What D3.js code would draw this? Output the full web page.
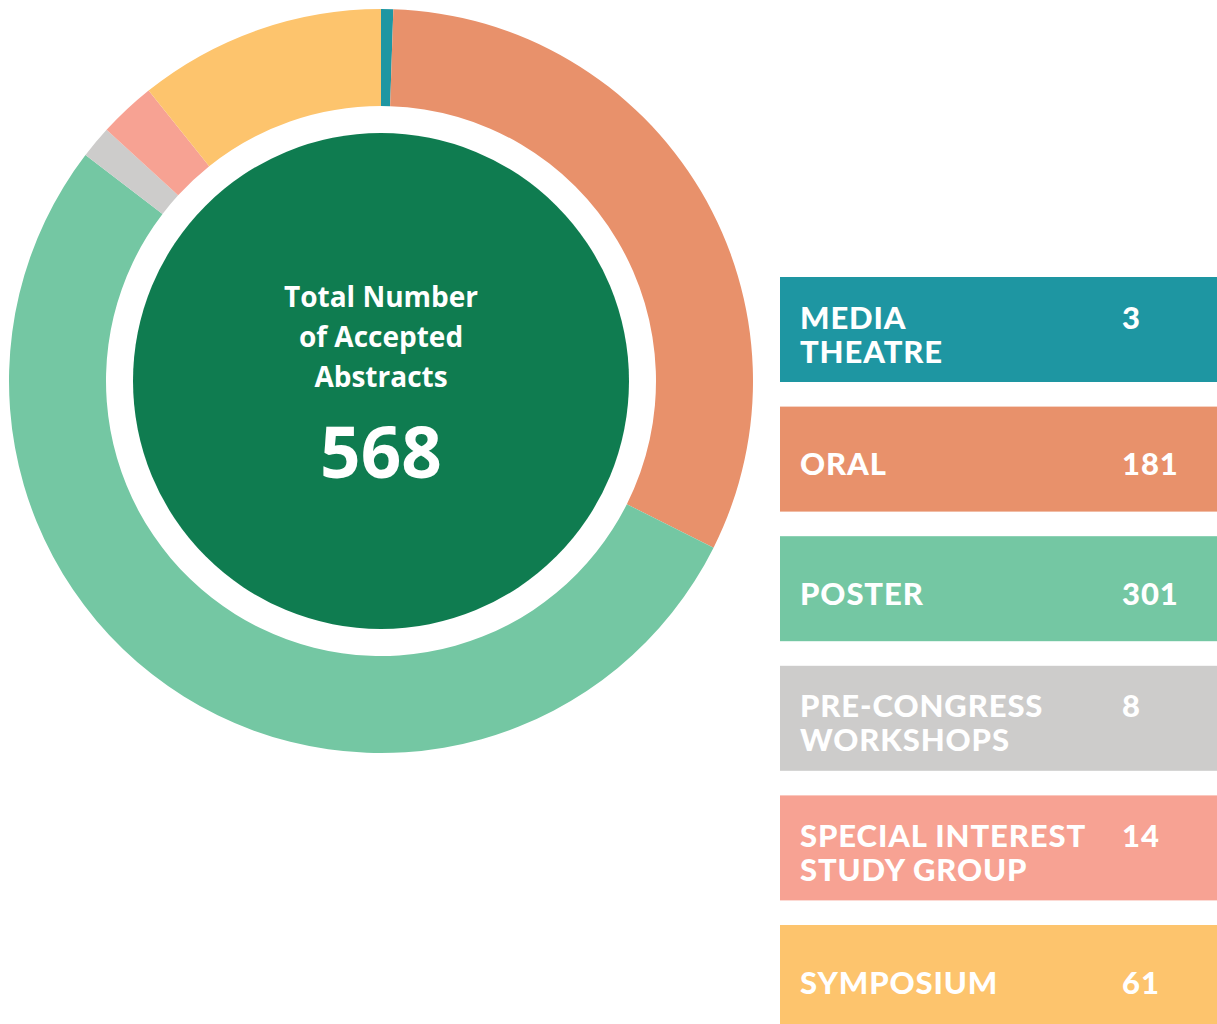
<!DOCTYPE html>
<html>
<head>
<meta charset="utf-8">
<script src="https://cdn.jsdelivr.net/npm/d3@7"></script>
<style>
  body { margin: 0; background: #fff; }
</style>
</head>
<body>
<div id="viz"></div>
<script>
let categories = ['MEDIA THEATRE', 'ORAL', 'POSTER', 'PRE-CONGRESS WORKSHOPS', 'SPECIAL INTEREST STUDY GROUP', 'SYMPOSIUM'];
let label_lines = [['MEDIA', 'THEATRE'], ['ORAL'], ['POSTER'], ['PRE-CONGRESS', 'WORKSHOPS'], ['SPECIAL INTEREST', 'STUDY GROUP'], ['SYMPOSIUM']];
let values = [3, 181, 301, 8, 14, 61];
let colors = ['#1e96a2', '#e8916b', '#74c7a3', '#cdcccb', '#f7a293', '#fdc46d'];
let center_lines = ['Total Number', 'of Accepted', 'Abstracts'];

const width = 1217, height = 1024;
const cx = 381, cy = 381;

const svg = d3.select('#viz').append('svg')
    .attr('width', width)
    .attr('height', height);

const pie = d3.pie().sort(null).value(d => d);
const arc = d3.arc().innerRadius(275).outerRadius(372);

const g = svg.append('g').attr('transform', 'translate(' + cx + ',' + cy + ')');

g.selectAll('path')
    .data(pie(values))
    .join('path')
    .attr('d', arc)
    .attr('fill', (d, i) => colors[i]);

// inner dark disc
g.append('circle')
    .attr('r', 248)
    .attr('fill', '#0f7c50');

const total = d3.sum(values);

g.append('text')
    .attr('text-anchor', 'middle')
    .attr('fill', '#fff')
    .attr('font-family', 'Open Sans')
    .attr('font-weight', 'bold')
    .attr('font-size', 28)
    .selectAll('tspan')
    .data(center_lines)
    .join('tspan')
    .attr('x', 0)
    .attr('y', (d, i) => -74 + i * 40)
    .text(d => d);

g.append('text')
    .attr('x', 0)
    .attr('y', 97)
    .attr('text-anchor', 'middle')
    .attr('fill', '#fff')
    .attr('font-family', 'Open Sans')
    .attr('font-weight', 'bold')
    .attr('font-size', 71)
    .text(total);

// legend boxes
const box_h = 105, step = 129.6;
const y = d3.scaleBand()
    .domain(categories)
    .range([277, 277 + step * (categories.length - 1) + box_h])
    .paddingInner((step - box_h) / step)
    .paddingOuter(0);

const legend = svg.append('g')
    .selectAll('g')
    .data(categories)
    .join('g')
    .attr('transform', d => 'translate(0,' + y(d) + ')');

legend.append('rect')
    .attr('x', 780)
    .attr('width', 437)
    .attr('height', y.bandwidth())
    .attr('fill', (d, i) => colors[i]);

legend.each(function (d, i) {
    const lines = label_lines[i];
    const h = y.bandwidth();
    const base = lines.length === 1 ? h / 2 + 16 : h / 2 - 1;
    const sel = d3.select(this);
    sel.append('text')
        .attr('fill', '#fff')
        .attr('font-family', 'Lato')
        .attr('font-weight', 900)
        .attr('font-size', 31)
        .attr('letter-spacing', 0.9)
        .selectAll('tspan')
        .data(lines)
        .join('tspan')
        .attr('x', 800)
        .attr('y', (line, j) => base + j * 34)
        .text(line => line);
    sel.append('text')
        .attr('x', 1122)
        .attr('y', base)
        .attr('fill', '#fff')
        .attr('font-family', 'Lato')
        .attr('font-weight', 900)
        .attr('font-size', 31)
        .attr('letter-spacing', 0.9)
        .text(values[i]);
});
</script>
</body>
</html>
